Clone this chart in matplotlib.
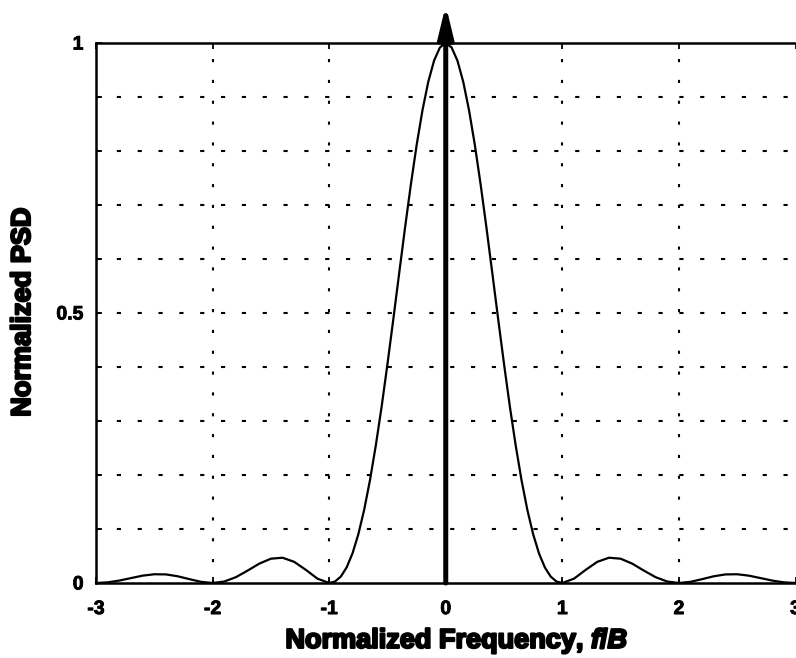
import matplotlib
matplotlib.use("Agg")
import matplotlib.pyplot as plt
import matplotlib.patheffects as pe

# Normalized frequency f/B and normalized PSD
freq = [-3.0, -2.9, -2.8, -2.7, -2.6, -2.5, -2.4, -2.3, -2.2, -2.1,
        -2.0, -1.9, -1.8, -1.7, -1.6, -1.5, -1.4, -1.3, -1.2, -1.1,
        -1.0, -0.95, -0.9, -0.85, -0.8, -0.75, -0.7, -0.65, -0.6, -0.55,
        -0.5, -0.45, -0.4, -0.35, -0.3, -0.25, -0.2, -0.15, -0.1, -0.05,
        0.0, 0.05, 0.1, 0.15, 0.2, 0.25, 0.3, 0.35, 0.4, 0.45,
        0.5, 0.55, 0.6, 0.65, 0.7, 0.75, 0.8, 0.85, 0.9, 0.95,
        1.0, 1.1, 1.2, 1.3, 1.4, 1.5, 1.6, 1.7, 1.8, 1.9,
        2.0, 2.1, 2.2, 2.3, 2.4, 2.5, 2.6, 2.7, 2.8, 2.9, 3.0]
psd = [0.0, 0.0012, 0.0045, 0.0091, 0.0136, 0.0162, 0.0159, 0.0125, 0.0072, 0.0022,
       0.0, 0.0027, 0.0108, 0.0229, 0.0358, 0.0450, 0.0468, 0.0392, 0.0243, 0.0080,
       0.0, 0.0027, 0.0119, 0.0289, 0.0547, 0.0901, 0.1353, 0.1904, 0.2546, 0.3267,
       0.4053, 0.4881, 0.5728, 0.6566, 0.7368, 0.8106, 0.8751, 0.9281, 0.9675, 0.9918,
       1.0, 0.9918, 0.9675, 0.9281, 0.8751, 0.8106, 0.7368, 0.6566, 0.5728, 0.4881,
       0.4053, 0.3267, 0.2546, 0.1904, 0.1353, 0.0901, 0.0547, 0.0289, 0.0119, 0.0027,
       0.0, 0.0080, 0.0243, 0.0392, 0.0468, 0.0450, 0.0358, 0.0229, 0.0108, 0.0027,
       0.0, 0.0022, 0.0072, 0.0125, 0.0159, 0.0162, 0.0136, 0.0091, 0.0045, 0.0012, 0.0]

# spectral line (impulse) at f = 0
impulse_f = 0.0
impulse_top = 1.07

xticks = [-3, -2, -1, 0, 1, 2, 3]
xticklabels = ["-3", "-2", "-1", "0", "1", "2", "3"]
yticks = [0, 0.5, 1]
yticklabels = ["0", "0.5", "1"]
ygrid = [0.1, 0.2, 0.3, 0.4, 0.5, 0.6, 0.7, 0.8, 0.9]

plt.rcParams['font.family'] = ['Liberation Sans', 'DejaVu Sans']
plt.rcParams['mathtext.fontset'] = 'custom'
plt.rcParams['mathtext.rm'] = 'Liberation Sans:bold'
plt.rcParams['mathtext.it'] = 'Liberation Sans:bold:italic'

W, H = 796, 658
fig = plt.figure(figsize=(W / 100, H / 100), dpi=100)
left, right, top, bottom = 96, 795.5, 43, 583
ax = fig.add_axes([left / W, 1 - bottom / H, (right - left) / W, (bottom - top) / H])

ax.set_xlim(-3, 3)
ax.set_ylim(0, 1)

# grid
for g in ygrid:
    ax.axhline(g, color='black', lw=1.5, linestyle=(0, (2, 8)), zorder=1)
for g in [-2, -1, 0, 1, 2]:
    ax.axvline(g, color='black', lw=1.5, linestyle=(0, (1.5, 8.5)), zorder=1)

ax.plot(freq, psd, color='black', lw=1.6, zorder=3, clip_on=False)

ax.annotate("", xy=(impulse_f, impulse_top), xytext=(impulse_f, 0),
            xycoords='data', textcoords='data', annotation_clip=False,
            arrowprops=dict(arrowstyle="-|>,head_length=0.95,head_width=0.23",
                            mutation_scale=20, color='black', lw=3.6,
                            shrinkA=0, shrinkB=0), zorder=4)

for s in ['left', 'bottom', 'top']:
    ax.spines[s].set_linewidth(1.8)
ax.spines['right'].set_visible(False)

ax.set_xticks(xticks)
ax.set_xticklabels(xticklabels)
ax.set_yticks(yticks)
ax.set_yticklabels(yticklabels)
ax.set_yticks(ygrid, minor=True)
ax.tick_params(axis='both', which='both', direction='in', length=4, width=1.3,
               labelsize=14, top=True)
ax.tick_params(axis='x', pad=13)
ax.tick_params(axis='y', pad=9)
for lab in ax.get_xticklabels() + ax.get_yticklabels():
    lab.set_fontweight('bold')
    lab.set_path_effects([pe.withStroke(linewidth=0.6, foreground='black')])

fx = fig.text(457 / W, 1 - 641 / H, r"Normalized Frequency, $f/B$", ha='center', va='center',
              fontsize=19.5, fontweight='bold')
fy = fig.text(23 / W, 1 - 312 / H, "Normalized PSD", ha='center', va='center',
              rotation=90, fontsize=19.5, fontweight='bold')
for t in (fx, fy):
    t.set_path_effects([pe.withStroke(linewidth=1.6, foreground='black')])

fig.savefig("out.png", dpi=100)
